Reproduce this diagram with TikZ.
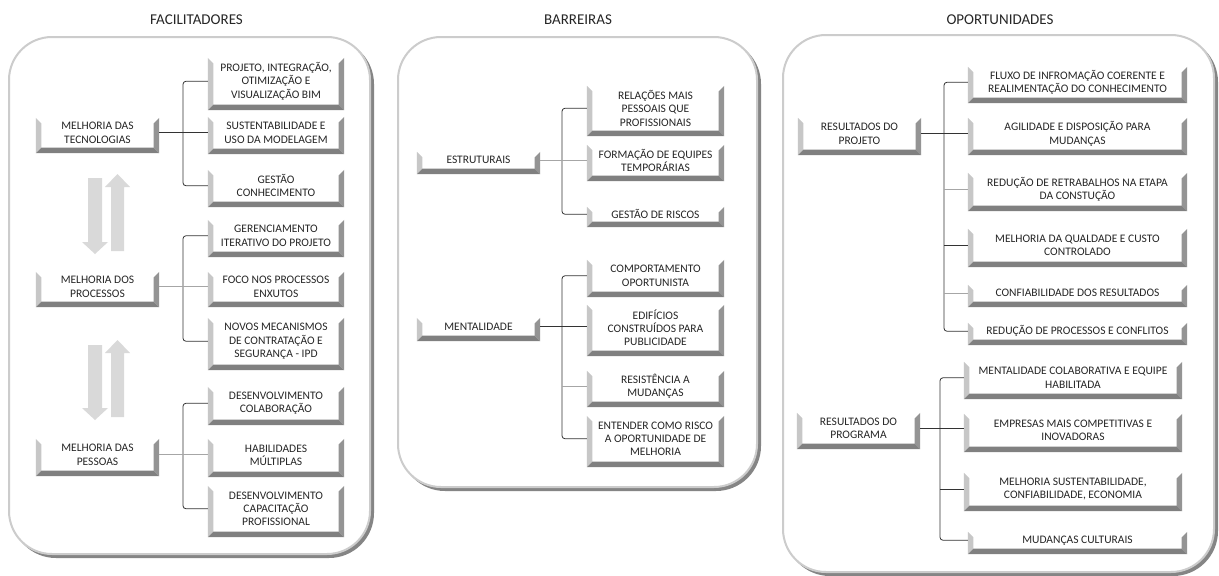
\documentclass[tikz,border=0pt]{standalone}
\usepackage{fontspec}
\setmainfont{Carlito}
\usetikzlibrary{calc}
\definecolor{txt}{HTML}{262626}
\tikzset{
 bxs/.style={rectangle, fill=white, inner sep=0pt, align=center, text=txt, font=\fontsize{11.5}{13.4}\selectfont},
 conn/.style={draw=black!80, line width=0.8pt},
 lconn/.style={draw=black!35, line width=0.8pt},
 ttl/.style={font=\fontsize{15}{18}\selectfont, text=txt},
 blockarrow/.style={fill=black!15},
 panelshadow/.style={fill=black!48, rounded corners=45pt},
 panelface/.style={fill=white, draw=black!20, line width=2pt, rounded corners=43pt},
}
\newcommand\bx[6]{\node[bxs, minimum width={(#4-#2)*1pt}, minimum height={(#5-#3-5.5)*1pt}] (#1) at ({(#2+#4)/2},{(#3+#5-5.5)/2}) {#6};}
\begin{document}
\begin{tikzpicture}[x=1pt,y=-1pt]
\useasboundingbox[fill=white] (0,0) rectangle (1219,576);
% panels
\fill[panelshadow] (11,39) rectangle (374,558);
\path[panelface] (9,37) rectangle (370,554);
\fill[panelshadow] (400,39) rectangle (761,491);
\path[panelface] (398,37) rectangle (757,487);
\fill[panelshadow] (785,37) rectangle (1218,576);
\path[panelface] (783,35) rectangle (1214,572);
% titles
\node[ttl] (t1) at (196.5,20) {FACILITADORES};
\node[ttl] (t2) at (578,20) {BARREIRAS};
\node[ttl] (t3) at (1000,20) {OPORTUNIDADES};
% block arrows
\fill[blockarrow] (88,178) -- (102,178) -- (102,242) -- (108,242) -- (95,254) -- (82,242) -- (88,242) -- cycle;
\fill[blockarrow] (111,251) -- (124,251) -- (124,187) -- (130,187) -- (117.5,174) -- (105,187) -- (111,187) -- cycle;
\fill[blockarrow] (88,345) -- (102,345) -- (102,408) -- (108,408) -- (95,420) -- (82,408) -- (88,408) -- cycle;
\fill[blockarrow] (111,417) -- (124,417) -- (124,353) -- (130,353) -- (117.5,340) -- (105,353) -- (111,353) -- cycle;
% boxes panel 1
\bx{m1}{36}{118}{159}{153}{MELHORIA DAS\\TECNOLOGIAS}
\bx{m2}{36}{272}{159}{307}{MELHORIA DOS\\PROCESSOS}
\bx{m3}{36}{439}{159}{476}{MELHORIA DAS\\PESSOAS}
\bx{a1}{208}{58}{344}{110}{PROJETO, INTEGRAÇÃO,\\OTIMIZAÇÃO E\\VISUALIZAÇÃO BIM}
\bx{a2}{208}{117}{344}{154}{SUSTENTABILIDADE E\\USO DA MODELAGEM}
\bx{a3}{208}{170}{344}{207}{GESTÃO\\CONHECIMENTO}
\bx{a4}{208}{220}{344}{257}{GERENCIAMENTO\\ITERATIVO DO PROJETO}
\bx{a5}{208}{272}{344}{307}{FOCO NOS PROCESSOS\\ENXUTOS}
\bx{a6}{208}{318}{344}{370}{NOVOS MECANISMOS\\DE CONTRATAÇÃO E\\SEGURANÇA - IPD}
\bx{a7}{208}{387}{344}{425}{DESENVOLVIMENTO\\COLABORAÇÃO}
\bx{a8}{208}{439}{344}{477}{HABILIDADES\\MÚLTIPLAS}
\bx{a9}{208}{486}{344}{537}{DESENVOLVIMENTO\\CAPACITAÇÃO\\PROFISSIONAL}
% boxes panel 2
\bx{m4}{417}{152}{540}{174}{ESTRUTURAIS}
\bx{m5}{417}{318}{540}{341}{MENTALIDADE}
\bx{b1}{587}{86}{724}{136}{RELAÇÕES MAIS\\PESSOAIS QUE\\PROFISSIONAIS}
\bx{b2}{587}{145}{724}{181}{FORMAÇÃO DE EQUIPES\\TEMPORÁRIAS}
\bx{b3}{587}{207}{724}{227}{GESTÃO DE RISCOS}
\bx{b4}{587}{260}{724}{297}{COMPORTAMENTO\\OPORTUNISTA}
\bx{b5}{587}{305}{724}{356}{EDIFÍCIOS\\CONSTRUÍDOS PARA\\PUBLICIDADE}
\bx{b6}{587}{371}{724}{407}{RESISTÊNCIA A\\MUDANÇAS}
\bx{b7}{587}{416}{724}{467}{ENTENDER COMO RISCO\\A OPORTUNIDADE DE\\MELHORIA}
% boxes panel 3
\bx{m6}{798}{118}{921}{155}{RESULTADOS DO\\PROJETO}
\bx{m7}{797}{413}{920}{449}{RESULTADOS DO\\PROGRAMA}
\bx{c1}{968}{67}{1187}{103}{FLUXO DE INFROMAÇÃO COERENTE E\\REALIMENTAÇÃO DO CONHECIMENTO}
\bx{c2}{968}{118}{1187}{155}{AGILIDADE E DISPOSIÇÃO PARA\\MUDANÇAS}
\bx{c3}{968}{173}{1187}{211}{REDUÇÃO DE RETRABALHOS NA ETAPA\\DA CONSTUÇÃO}
\bx{c4}{968}{229}{1187}{267}{MELHORIA DA QUALDADE E CUSTO\\CONTROLADO}
\bx{c5}{968}{285}{1187}{307}{CONFIABILIDADE DOS RESULTADOS}
\bx{c6}{968}{323}{1187}{345}{REDUÇÃO DE PROCESSOS E CONFLITOS}
\bx{c7}{964}{362}{1182}{399}{MENTALIDADE COLABORATIVA E EQUIPE\\HABILITADA}
\bx{c8}{964}{414}{1182}{452}{EMPRESAS MAIS COMPETITIVAS E\\INOVADORAS}
\bx{c9}{964}{473}{1182}{511}{MELHORIA SUSTENTABILIDADE,\\CONFIABILIDADE, ECONOMIA}
\bx{c10}{968}{532}{1187}{554}{MUDANÇAS CULTURAIS}
% bevels
\foreach \n in {m1,m2,m3,m4,m5,m6,m7,a1,a2,a3,a4,a5,a6,a7,a8,a9,b1,b2,b3,b4,b5,b6,b7,c1,c2,c3,c4,c5,c6,c7,c8,c9,c10} {
 \fill[black!22] (\n.north west) -- ++(5.5pt,-5.5pt) -- ([xshift=5.5pt]\n.south west) -- ([yshift=-5.5pt]\n.south west) -- cycle;
 \fill[black!42] (\n.north east) -- ++(-5.5pt,-5.5pt) -- ([xshift=-5.5pt]\n.south east) -- ([yshift=-5.5pt]\n.south east) -- cycle;
 \fill[black!50] ([xshift=5.5pt]\n.south west) -- ([xshift=-5.5pt]\n.south east) -- ([yshift=-5.5pt]\n.south east) -- ([yshift=-5.5pt]\n.south west) -- cycle;
}
% bracket coordinates
\coordinate (k1) at (183,0);
\coordinate (k2) at (562,0);
\coordinate (k3) at (944,0);
\coordinate (k4) at (940,0);
% connectors panel 1
\draw[conn, rounded corners=3pt] (a1.west) -| (k1 |- a3.west) -- (a3.west);
\draw[conn] (m1.east) -- (m1.east -| a2.west);
\draw[conn, rounded corners=3pt] (a4.west) -| (k1 |- a6.west) -- (a6.west);
\draw[lconn] (m2.east) -- (m2.east -| a5.west);
\draw[conn, rounded corners=3pt] (a7.west) -| (k1 |- a9.west) -- (a9.west);
\draw[lconn] (m3.east) -- (m3.east -| a8.west);
% connectors panel 2
\draw[conn, rounded corners=3pt] (b1.west) -| (k2 |- b3.west) -- (b3.west);
\draw[lconn] (m4.east) -- (m4.east -| b2.west);
\draw[conn, rounded corners=3pt] (b4.west) -| (k2 |- b7.west) -- (b7.west);
\draw[conn] (m5.east) -- (m5.east -| b5.west);
\draw[lconn] (k2 |- b6.west) -- (b6.west);
% connectors panel 3
\draw[conn, rounded corners=3pt] (c1.west) -| (k3 |- c6.west) -- (c6.west);
\draw[conn] (m6.east) -- (m6.east -| c2.west);
\draw[lconn] (k3 |- c3.west) -- (c3.west);
\draw[conn] (k3 |- c4.west) -- (c4.west);
\draw[lconn] (k3 |- c5.west) -- (c5.west);
\draw[conn, rounded corners=3pt] (c7.west) -| (k4 |- c10.west) -- (c10.west);
\draw[conn] (m7.east) -- (m7.east -| c8.west);
\draw[conn] (k4 |- c9.west) -- (c9.west);
\end{tikzpicture}
\end{document}
